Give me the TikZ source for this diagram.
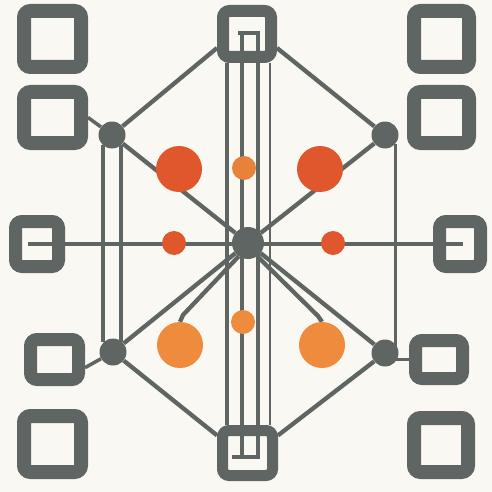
\documentclass[tikz,border=0pt]{standalone}
\usetikzlibrary{calc}
\definecolor{bg}{RGB}{250,248,243}
\definecolor{gr}{RGB}{95,101,98}
\definecolor{rd}{RGB}{224,86,45}
\definecolor{og}{RGB}{238,139,60}
\definecolor{og2}{RGB}{232,130,58}
\pgfdeclarelayer{bottom}
\pgfdeclarelayer{back}
\pgfsetlayers{bottom,back,main}
\begin{document}
\begin{tikzpicture}[x=1pt,y=-1pt,
  sqbox/.style={draw=gr, rounded corners=6.5pt, inner sep=0pt},
  hub/.style={circle, fill=gr, inner sep=0pt},
  dot/.style={circle, inner sep=0pt},
  wire/.style={draw=gr, line width=4.3pt},
  thinwire/.style={draw=gr, line width=2.5pt}]
\useasboundingbox (0,0) rectangle (492,492);
% boxes
\node[sqbox, line width=14pt, minimum width=57pt, minimum height=56pt] (tl1) at (52.5,39) {};
\node[sqbox, line width=14pt, minimum width=57pt, minimum height=51pt] (tl2) at (52.5,117.5) {};
\node[sqbox, line width=14pt, minimum width=55pt, minimum height=56pt] (tr1) at (441.5,39) {};
\node[sqbox, line width=14pt, minimum width=55pt, minimum height=51pt] (tr2) at (441.5,117.5) {};
\node[sqbox, line width=13pt, minimum width=43pt, minimum height=45pt] (ml) at (37,244) {};
\node[sqbox, line width=13pt, minimum width=41pt, minimum height=45pt] (mr) at (460,244) {};
\node[sqbox, line width=13pt, minimum width=48pt, minimum height=40pt] (bl1) at (54.5,359.5) {};
\node[sqbox, line width=14pt, minimum width=57pt, minimum height=56pt] (bl2) at (52.5,444) {};
\node[sqbox, line width=13pt, minimum width=47pt, minimum height=38pt] (br1) at (439,359.5) {};
\node[sqbox, line width=14pt, minimum width=54pt, minimum height=54pt] (br2) at (441,445) {};
\node[sqbox, line width=12pt, minimum width=48pt, minimum height=46pt] (tc) at (247,34) {};
\node[sqbox, line width=11pt, minimum width=50pt, minimum height=45pt] (bc) at (247.5,453) {};
% hubs
\node[hub, minimum size=27pt] (h1) at (112,135) {};
\node[hub, minimum size=27pt] (h2) at (385,135) {};
\node[hub, minimum size=27pt] (h3) at (113,352) {};
\node[hub, minimum size=27pt] (h4) at (385,353) {};
\node[hub, minimum size=32pt] (hc) at (248,243) {};
% dots
\node[dot, fill=rd, minimum size=46pt] (R1) at (179,169) {};
\node[dot, fill=rd, minimum size=46pt] (R2) at (320,169) {};
\node[dot, fill=og2, minimum size=24pt] (o1) at (244,168) {};
\node[dot, fill=rd, minimum size=24pt] (r3) at (174,243) {};
\node[dot, fill=rd, minimum size=24pt] (r4) at (333,243) {};
\node[dot, fill=og, minimum size=24pt] (o2) at (243,322) {};
\node[dot, fill=og, minimum size=46pt] (O1) at (180,345) {};
\node[dot, fill=og, minimum size=46pt] (O2) at (322,345) {};
% helper coordinates
\coordinate (k1) at (183,315);
\coordinate (k2) at (318,316);
\coordinate (ua) at (238,33);
\coordinate (ub) at (260,33);
\coordinate (uc) at (232,457);
\coordinate (ud) at (260,457);
\begin{pgfonlayer}{bottom}
\fill[bg] (0,0) rectangle (492,492);
\end{pgfonlayer}
\begin{pgfonlayer}{back}
% frame diagonals
\draw[wire] (h1) -- (tc.205);
\draw[wire] (h2) -- (tc.335);
\draw[wire] (h3) -- (bc.150);
\draw[wire] (h4) -- (bc.30);
% spokes
\draw[wire] (h1) -- (hc);
\draw[wire] (h2) -- (hc);
\draw[wire] (h3) -- (hc);
\draw[wire] (h4) -- (hc);
\draw[wire] (hc.235) -- (k1) -- (O1.north);
\draw[wire] (hc.305) -- (k2) -- (O2.north);
% horizontal axis
\draw[wire] ($(ml.center)+(-9,0)$) -- ($(mr.center)+(3,0)$);
% side verticals
\draw[wire] (h1.-130) -- (h1.-130 |- h3.130);
\draw[wire] (h1.-50) -- (h1.-50 |- h3.50);
\draw[thinwire, line width=3.5pt] (h2.-40) |- (br1.west);
\draw[wire, line width=3.5pt] (h1) -- (tl2.east);
\draw[wire, line width=3.5pt] (h3) -- (bl1.-15);
% central verticals
\draw[wire, line width=4.5pt] ($(tc.south west)+(10,0)$) -- ($(bc.north west)+(10,0)$);
\draw[thinwire] ($(tc.south east)+(-7,0)$) -- ($(bc.north east)+(-8,0)$);
\draw[wire, line width=4pt] (ua) -- (ub);
\draw[wire, line width=4pt] ($(ua)+(4,-2)$) -- ($(uc)+(10,2)$);
\draw[wire, line width=4pt] ($(ub)+(-2,-2)$) -- ($(ud)+(-2,2)$);
\draw[wire, line width=4pt] (uc) -- (ud);
\end{pgfonlayer}
\end{tikzpicture}
\end{document}
